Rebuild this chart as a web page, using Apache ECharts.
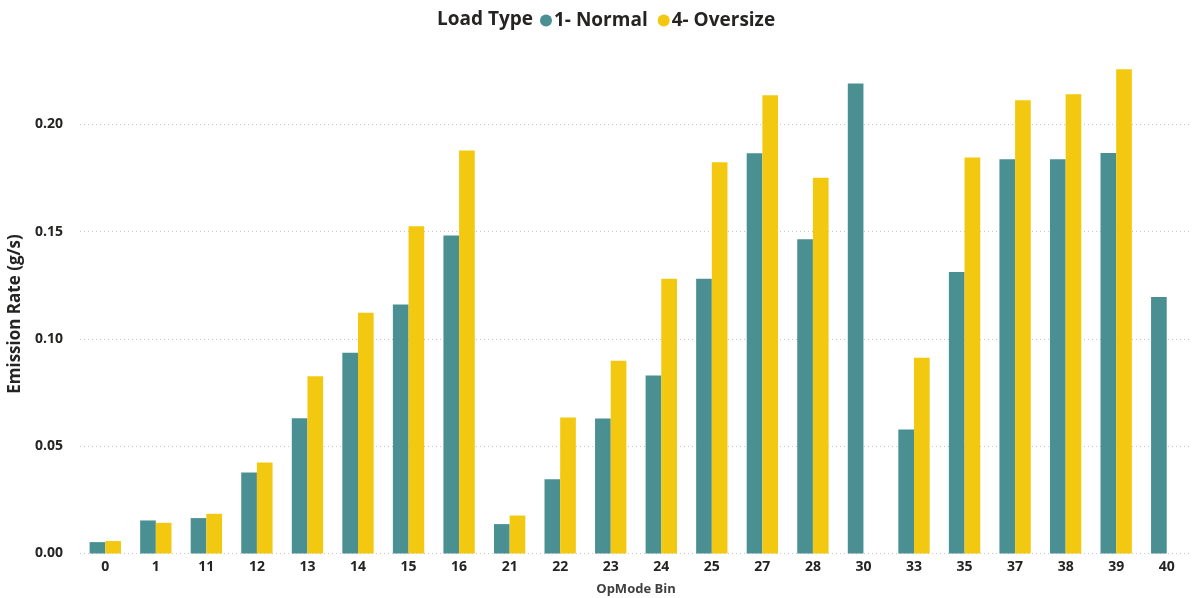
<!DOCTYPE html>
<html>
<head>
<meta charset="utf-8">
<script src="https://cdn.jsdelivr.net/npm/echarts@6/dist/echarts.min.js"></script>
<style>
html,body{margin:0;padding:0;background:#fff;}
#chart{width:1204px;height:598px;}
</style>
</head>
<body>
<div id="chart"></div>
<script>
const categories = ['0','1','11','12','13','14','15','16','21','22','23','24','25','27','28','30','33','35','37','38','39','40'];
const normalValues = [0.0053,0.0154,0.0165,0.0378,0.0630,0.0935,0.1160,0.1482,0.0137,0.0346,0.0629,0.0830,0.1280,0.1865,0.1465,0.2190,0.0578,0.1312,0.1837,0.1837,0.1866,0.1195];
const oversizeValues = [0.0058,0.0143,0.0185,0.0424,0.0826,0.1122,0.1525,0.1878,0.0177,0.0634,0.0898,0.1280,0.1823,0.2136,0.1751,null,0.0912,0.1845,0.2112,0.2140,0.2257,null];
const seriesNames = ['1- Normal','4- Oversize'];
const yTicks = [0,0.05,0.10,0.15,0.20];

const FONT = '"Open Sans", "Noto Sans", sans-serif';
const chart = echarts.init(document.getElementById('chart'), null, {renderer:'canvas'});
chart.setOption({
  animation:false,
  backgroundColor:'#ffffff',
  color:['#4a8f92','#f2c811'],
  title:{
    text:'Load Type',
    left:432, top:5,
    textStyle:{fontFamily:FONT,fontWeight:'bold',fontSize:19,color:'#252423'}
  },
  legend:{
    left:535, top:6,
    icon:'circle',
    itemWidth:12, itemHeight:12, itemGap:10,
    textStyle:{fontFamily:FONT,fontWeight:'bold',fontSize:19,color:'#252423',padding:[0,0,0,-3]},
    data:seriesNames
  },
  grid:{left:80,right:12,top:38.5,bottom:44.5,containLabel:false,outerBoundsMode:'none'},
  xAxis:{
    type:'category',
    data:categories,
    name:'OpMode Bin',
    nameLocation:'middle',
    nameGap:29,
    nameTextStyle:{fontFamily:FONT,fontWeight:'bold',fontSize:13,color:'#404040'},
    axisLine:{show:false},
    axisTick:{show:false},
    axisLabel:{fontFamily:FONT,fontWeight:'bold',fontSize:14,color:'#252423',margin:7}
  },
  yAxis:{
    type:'value',
    min:0,max:0.24,interval:0.05,
    name:'Emission Rate (g/s)',
    nameLocation:'middle',
    nameGap:54,
    nameTextStyle:{fontFamily:FONT,fontWeight:'bold',fontSize:17,color:'#252423',padding:[0,36,0,0]},
    axisLine:{show:false},
    axisTick:{show:false},
    axisLabel:{
      fontFamily:FONT,fontWeight:'bold',fontSize:14,color:'#252423',margin:17,
      showMaxLabel:false,
      formatter:function(v){
        for (const t of yTicks){ if (Math.abs(v-t)<1e-9) return t.toFixed(2); }
        return '';
      }
    },
    splitLine:{show:true,showMaxLine:false,lineStyle:{type:[1,3],color:'#c8c8c8',width:1}}
  },
  series:[
    {name:seriesNames[0],type:'bar',data:normalValues,barGap:'0%',barCategoryGap:'38%'},
    {name:seriesNames[1],type:'bar',data:oversizeValues,barGap:'0%',barCategoryGap:'38%'}
  ]
});
</script>
</body>
</html>
